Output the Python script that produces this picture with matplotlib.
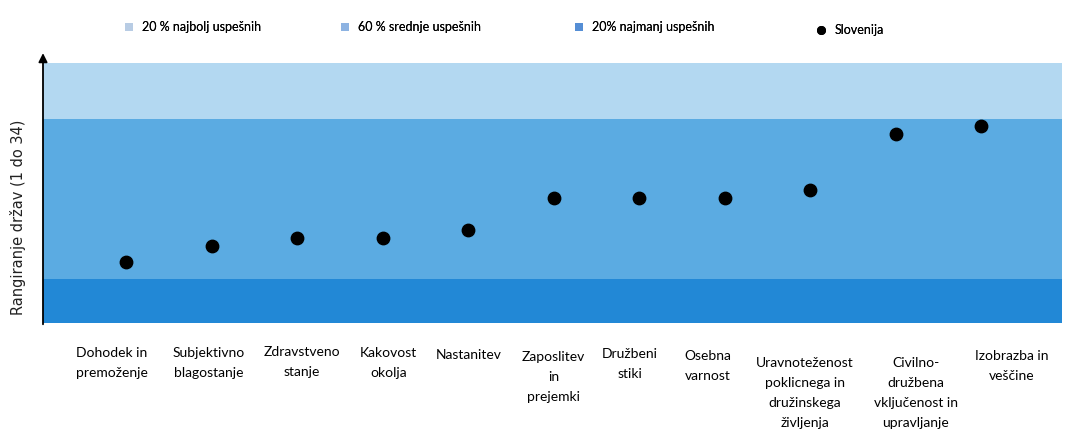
import matplotlib
matplotlib.use("Agg")
import matplotlib.pyplot as plt
from matplotlib.patches import Patch
from matplotlib.lines import Line2D

# ---- data ----
categories = [
    "Dohodek in\npremoženje",
    "Subjektivno\nblagostanje",
    "Zdravstveno\nstanje",
    "Kakovost\nokolja",
    "Nastanitev",
    "Zaposlitev\nin\nprejemki",
    "Družbeni\nstiki",
    "Osebna\nvarnost",
    "Uravnoteženost\npoklicnega in\ndružinskega\nživljenja",
    "Civilno-\ndružbena\nvključenost in\nupravljanje",
    "Izobrazba in\nveščine",
]
slovenia_rank = [26, 24, 23, 23, 22, 18, 18, 18, 17, 10, 9]
band_edges = [1.125, 8.125, 28.125, 33.625]   # top 20 %, middle 60 %, bottom 20 %
legend_labels = ["20 % najbolj uspešnih", "60 % srednje uspešnih",
                 "20% najmanj uspešnih", "Slovenija"]
ylabel = "Rangiranje držav (1 do 34)"

# ---- style ----
W, H, DPI = 1065, 433, 100
band_colors = ["#b3d8f1", "#5babe2", "#2288d6"]
legend_colors = ["#b8cce4", "#8db3e2", "#558ed5"]
FONT = "Lato"

fig = plt.figure(figsize=(W / DPI, H / DPI), dpi=DPI)
ax = fig.add_axes([43 / W, (H - 323) / H, (1062 - 43) / W, 260 / H])

x = list(range(len(categories)))
ax.set_xlim(-0.971, 10.947)
ax.set_ylim(band_edges[3], band_edges[0])

for i in range(3):
    ax.axhspan(band_edges[i], band_edges[i + 1], color=band_colors[i], lw=0, zorder=0)

ax.scatter(x, slovenia_rank, s=80, color="black", zorder=3)

for s in ax.spines.values():
    s.set_visible(False)
ax.set_xticks([])
ax.set_yticks([])

# y-axis arrow
ax.annotate("", xy=(0, 1.038), xytext=(0, -0.005), xycoords="axes fraction",
            arrowprops=dict(arrowstyle="-|>", color="black", lw=1.3,
                            mutation_scale=13, shrinkA=0, shrinkB=0),
            annotation_clip=False)

# category labels
dx = [-14, -3, 5, 6, 1, 0, -9, -17, -5, 20, 31]
dy = [-24, -24, -23, -24, -26, -28, -25, -27, -34, -34, -27]
for xi, lab, ox, oy in zip(x, categories, dx, dy):
    ax.annotate(lab, xy=(xi, 0), xycoords=("data", "axes fraction"),
                xytext=(ox, oy), textcoords="offset pixels",
                ha="center", va="top", fontsize=10, family=FONT,
                linespacing=1.8, annotation_clip=False)

fig.text(18 / W, 1 - 217 / H, ylabel, rotation=90, ha="center", va="center",
         fontsize=10.5, family="DejaVu Sans", color="#222222")

# legend (one entry each, placed along the top)
handles = [Patch(facecolor=c, edgecolor="none") for c in legend_colors]
handles.append(Line2D([], [], marker="o", color="black", lw=0, markersize=5.5))
leg_x = [125, 341, 575, 817]
leg_y = [27, 27, 27, 30]
for h, lab, lx, ly in zip(handles, legend_labels, leg_x, leg_y):
    lg = fig.legend(handles=[h], labels=[lab], loc="center left",
                    bbox_to_anchor=(lx / W, 1 - ly / H), frameon=False,
                    borderpad=0, borderaxespad=0, handlelength=0.6,
                    handleheight=0.6, handletextpad=0.8,
                    prop={"family": FONT, "size": 9})
    fig.add_artist(lg)

fig.savefig("out.png", dpi=DPI)
